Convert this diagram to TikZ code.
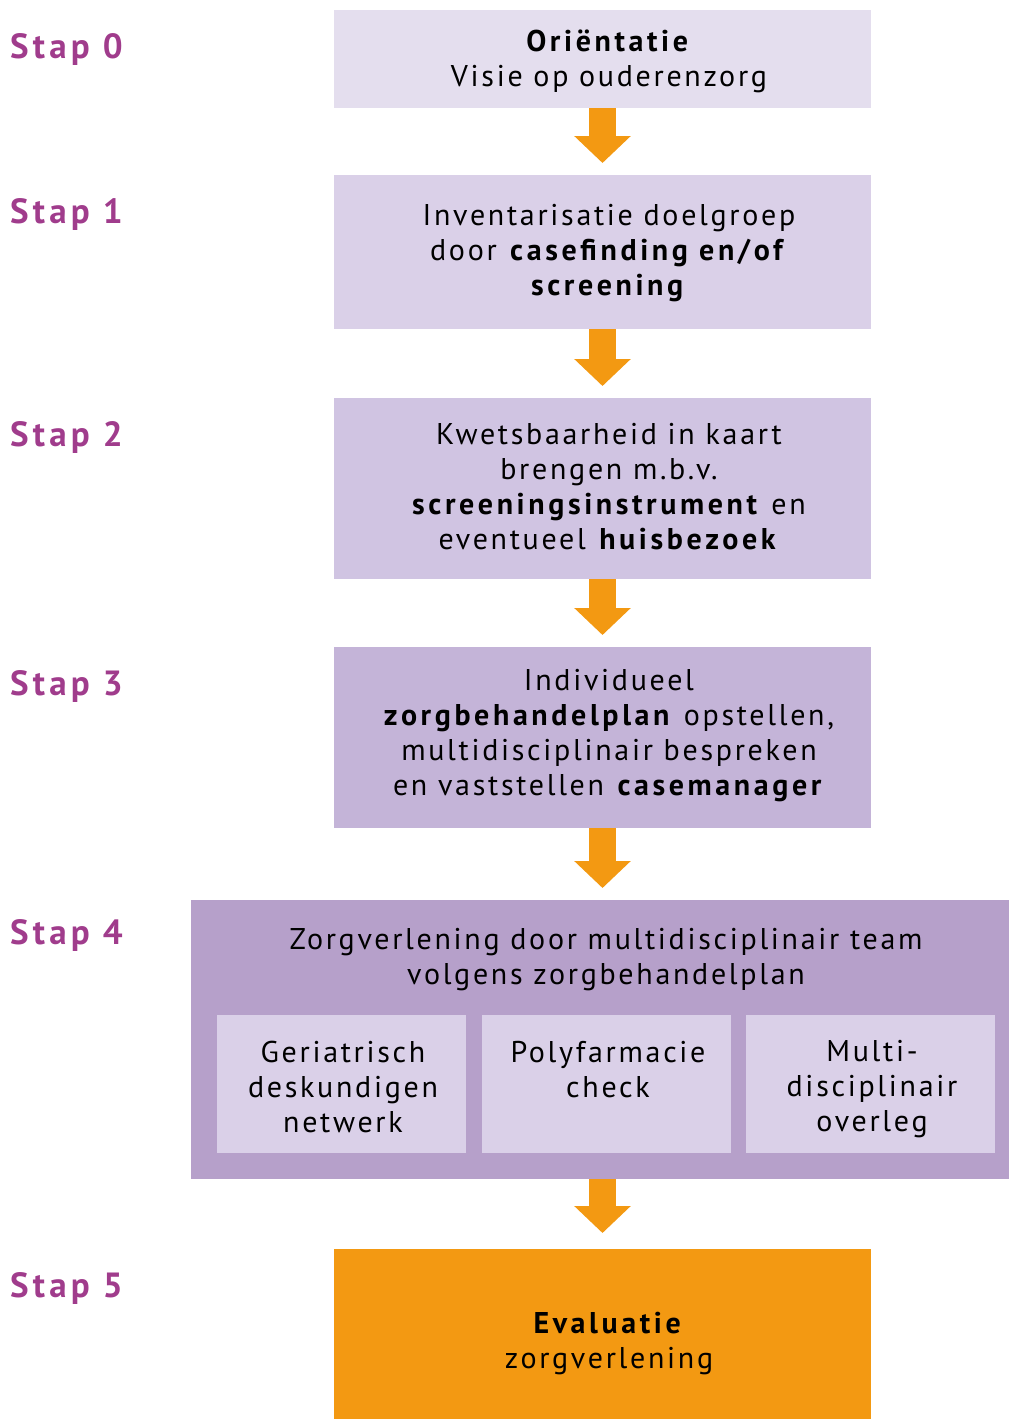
\documentclass[tikz,border=0pt]{standalone}
\usepackage{fontspec}
\setmainfont{PT Sans}[LetterSpace=9, BoldFeatures={LetterSpace=12}]
\usetikzlibrary{arrows.meta,calc}
\definecolor{stapc}{RGB}{160,60,140}
\definecolor{cA}{RGB}{228,222,238}
\definecolor{cB}{RGB}{218,208,232}
\definecolor{cC}{RGB}{208,196,226}
\definecolor{cD}{RGB}{196,180,216}
\definecolor{cE}{RGB}{182,160,202}
\definecolor{orangec}{RGB}{243,153,18}
\begin{document}
\begin{tikzpicture}[x=1pt,y=-1pt,
  box/.style={rectangle, inner sep=0pt, outer sep=0pt, draw=none},
  txt/.style={align=center, inner sep=0pt, font=\fontsize{30}{35}\selectfont, text=black},
  staplabel/.style={anchor=base west, inner sep=0pt, font=\fontsize{35}{40}\selectfont\bfseries, text=stapc},
  arr/.style={draw=orangec, line width=27pt, -{Triangle[width=55pt,length=27pt]}}]
\useasboundingbox (0,0) rectangle (1009,1419);
% boxes
\node[box, fill=cA, minimum width=537, minimum height=98] (b0) at (602.5,59) {};
\node[box, fill=cB, minimum width=537, minimum height=154] (b1) at (602.5,252) {};
\node[box, fill=cC, minimum width=537, minimum height=181] (b2) at (602.5,488.5) {};
\node[box, fill=cD, minimum width=537, minimum height=181] (b3) at (602.5,737.5) {};
\node[box, fill=cE, minimum width=818, minimum height=279] (b4) at (600,1039.5) {};
\node[box, fill=cB, minimum width=249, minimum height=138] (s1) at (341.5,1084) {};
\node[box, fill=cB, minimum width=249, minimum height=138] (s2) at (606.5,1084) {};
\node[box, fill=cB, minimum width=249, minimum height=138] (s3) at (870.5,1084) {};
\node[box, fill=orangec, minimum width=537, minimum height=170] (b5) at (602.5,1334) {};
% texts
\node[txt] (t0) at (609,61) {\textbf{Oriëntatie}\\Visie op ouderenzorg};
\node[txt] (t1) at (609,253) {Inventarisatie doelgroep\\door \textbf{casefinding en/of}\\\textbf{screening}};
\node[txt] (t2) at (609,487) {Kwetsbaarheid in kaart\\brengen m.b.v.\\\textbf{screeningsinstrument} en\\eventueel \textbf{huisbezoek}};
\node[txt] (t3) at (609,736) {Individueel\\\textbf{zorgbehandelplan} opstellen,\\multidisciplinair bespreken\\en vaststellen \textbf{casemanager}};
\node[txt] (t4) at (606,960) {Zorgverlening door multidisciplinair team\\volgens zorgbehandelplan};
\node[txt] (ts1) at (343,1087) {Geriatrisch\\deskundigen\\netwerk};
\node[txt] (ts2) at (608,1070) {Polyfarmacie\\check};
\node[txt] (ts3) at (872,1089) {Multi-\\disciplinair\\overleg};
\node[txt] (t5) at (609,1343) {\textbf{Evaluatie}\\zorgverlening};
% step labels
\node[staplabel] (l0) at (10,58) {Stap 0};
\node[staplabel] (l1) at (10,223) {Stap 1};
\node[staplabel] (l2) at (10,446) {Stap 2};
\node[staplabel] (l3) at (10,695) {Stap 3};
\node[staplabel] (l4) at (10,944) {Stap 4};
\node[staplabel] (l5) at (10,1297) {Stap 5};
% arrows
\draw[arr] (b0.south) -- ($(b1.north)+(0,-12)$);
\draw[arr] (b1.south) -- ($(b2.north)+(0,-12)$);
\draw[arr] (b2.south) -- ($(b3.north)+(0,-12)$);
\draw[arr] (b3.south) -- ($(b4.north -| b3.north)+(0,-12)$);
\draw[arr] (b4.south -| b5.north) -- ($(b5.north)+(0,-16)$);
\end{tikzpicture}
\end{document}
